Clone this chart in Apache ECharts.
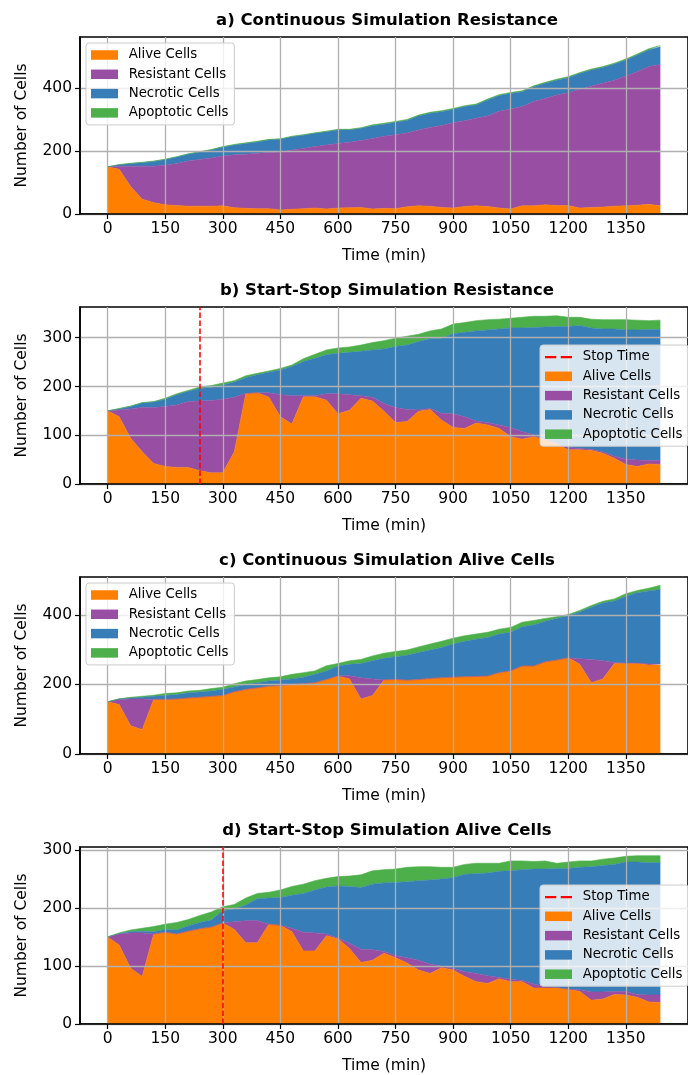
<!DOCTYPE html>
<html><head><meta charset="utf-8">
<script src="https://cdn.jsdelivr.net/npm/echarts@6/dist/echarts.min.js"></script>
<style>html,body{margin:0;padding:0;background:#fff}#c{width:688px;height:1075px}</style>
</head><body><div id="c"></div>
<script>
// ---- data ----
const TIME = [0,30,60,90,120,150,180,210,240,270,300,330,360,390,420,450,480,510,540,570,600,630,660,690,720,750,780,810,840,870,900,930,960,990,1020,1050,1080,1110,1140,1170,1200,1230,1260,1290,1320,1350,1380,1410,1440];
const X_TICKS = [0,150,300,450,600,750,900,1050,1200,1350];
const SERIES_NAMES = ['Alive Cells','Resistant Cells','Necrotic Cells','Apoptotic Cells'];

// a) Continuous Simulation Resistance
const A_ALIVE = [150,142,87,47,36,29,27,25,25,25,26,20,18,17,17,13,15,17,19,16,19,20,21,16,18,17,23,26,25,21,19,24,26,24,19,16,26,26,29,27,27,19,21,22,25,26,28,31,26];
const A_RESISTANT = [0,10,65,105,116,126,133,143,148,153,158,168,172,176,178,184,188,191,195,203,205,208,212,224,229,235,234,241,250,260,271,272,278,287,307,317,315,331,338,351,358,377,385,393,400,412,424,437,449];
const A_NECROTIC = [0,4,8,11,15,18,21,22,24,25,28,31,34,36,40,40,42,42,42,42,43,39,39,40,38,39,40,44,45,44,42,45,42,51,50,50,47,47,48,47,48,50,51,50,51,51,53,53,56];
const A_APOPTOTIC = [0,1,1,1,1,1,1,1,1,2,2,2,2,2,2,2,2,2,2,2,2,2,2,3,3,3,3,3,3,3,3,3,3,3,3,3,3,3,3,3,3,3,3,3,3,3,3,4,4];
const A_YTICKS = [0,200,400];

// b) Start-Stop Simulation Resistance
const B_ALIVE = [150,138,94,66,42,36,34,34,27,23,23,66,185,187,178,138,123,179,179,172,144,151,176,170,149,126,128,149,153,131,116,114,125,121,114,97,92,97,90,82,70,70,69,63,53,40,36,41,40];
const B_RESISTANT = [0,14,60,91,115,123,128,135,143,148,151,112,1,0,9,45,58,2,2,13,41,32,5,8,16,31,25,3,2,14,28,24,4,5,7,19,15,4,1,2,5,3,2,3,4,11,13,7,8];
const B_NECROTIC = [0,2,5,9,11,15,21,21,26,27,29,31,32,37,42,51,60,70,77,80,83,87,91,97,112,125,132,140,143,154,164,173,185,190,197,204,213,220,231,239,248,252,249,252,261,265,267,269,269];
const B_APOPTOTIC = [0,1,1,1,1,2,2,2,3,4,4,3,4,3,3,3,3,6,8,10,11,11,13,15,17,17,18,15,16,19,20,20,21,21,20,20,22,23,22,22,19,17,18,19,19,21,20,18,19];
const B_YTICKS = [0,100,200,300];
const B_STOP = 240;

// c) Continuous Simulation Alive Cells
const C_ALIVE = [150,142,81,70,157,157,158,161,163,166,168,179,186,190,195,197,200,202,205,214,224,216,158,168,213,214,212,214,217,219,221,222,223,224,234,239,253,253,265,270,277,258,205,216,260,260,260,256,256];
const C_RESISTANT = [0,15,77,88,0,0,0,0,0,0,0,0,0,0,0,0,0,0,0,0,1,9,61,48,0,0,0,0,0,0,0,0,0,0,0,0,0,0,0,0,0,16,67,52,3,2,2,3,3];
const C_NECROTIC = [0,1,3,5,9,11,13,15,15,15,18,14,14,15,15,16,16,19,24,25,28,33,41,52,62,66,72,78,82,87,95,102,107,111,111,111,113,118,117,120,121,134,150,166,177,192,202,210,214];
const C_APOPTOTIC = [0,1,2,3,3,6,5,5,5,7,6,9,10,9,9,9,13,13,10,15,7,10,12,14,15,15,15,16,17,18,17,16,15,15,14,14,13,13,8,5,3,5,5,5,6,7,6,8,12];
const C_YTICKS = [0,200,400];

// d) Start-Stop Simulation Alive Cells
const D_ALIVE = [150,136,96,82,155,158,155,160,164,167,174,163,140,140,172,170,159,126,126,152,147,130,106,110,122,114,105,93,87,97,93,82,73,70,78,73,73,62,62,62,60,56,41,43,51,50,46,38,37];
const D_RESISTANT = [0,19,61,75,0,0,0,0,0,0,0,13,38,38,0,0,6,32,31,3,1,9,23,18,3,4,9,17,16,3,3,8,14,13,2,4,2,7,2,1,0,3,14,12,5,6,5,12,13];
const D_NECROTIC = [0,1,2,3,4,5,7,9,11,12,21,22,27,38,45,48,57,67,74,81,90,98,106,113,118,126,131,137,145,150,156,168,172,177,183,187,191,198,203,205,208,211,216,218,219,223,228,228,228];
const D_APOPTOTIC = [0,1,3,5,9,9,13,11,12,14,7,8,12,9,10,13,15,16,16,15,16,18,22,23,23,23,25,24,23,20,18,17,18,17,14,17,15,13,14,9,11,11,10,11,11,10,11,12,12];
const D_YTICKS = [0,100,200,300];
const D_STOP = 300;

// ---- layout / style ----
const FONT = 'DejaVu Sans';
const COLORS = ['#ff7f00','#984ea3','#377eb8','#4daf4a'];
const panels = [
  {title:'a) Continuous Simulation Resistance', top:37, ymax:562, yticks:A_YTICKS, vals:[A_ALIVE,A_RESISTANT,A_NECROTIC,A_APOPTOTIC], stop:null, legend:{left:86, top:43}},
  {title:'b) Start-Stop Simulation Resistance', top:307, ymax:363, yticks:B_YTICKS, vals:[B_ALIVE,B_RESISTANT,B_NECROTIC,B_APOPTOTIC], stop:B_STOP, legend:{left:540, top:345}},
  {title:'c) Continuous Simulation Alive Cells', top:577, ymax:509, yticks:C_YTICKS, vals:[C_ALIVE,C_RESISTANT,C_NECROTIC,C_APOPTOTIC], stop:null, legend:{left:86, top:583}},
  {title:'d) Start-Stop Simulation Alive Cells', top:847, ymax:305, yticks:D_YTICKS, vals:[D_ALIVE,D_RESISTANT,D_NECROTIC,D_APOPTOTIC], stop:D_STOP, legend:{left:540, top:885}}
];
const H = 177;
const TICK_FS = 15.5, LABEL_FS = 15.5, LEG_FS = 13.3;

const grid = [], xAxis = [], yAxis = [], series = [], legend = [], graphic = [];
panels.forEach((p, i) => {
  grid.push({left:80, right:-5.8, top:p.top, height:H, show:true, borderColor:'#000', borderWidth:1.6, backgroundColor:'rgba(0,0,0,0)', containLabel:false});
  xAxis.push({
    type:'value', gridIndex:i, min:-72, max:1512, z:3,
    name:'Time (min)', nameLocation:'middle', nameGap:34,
    nameTextStyle:{fontFamily:FONT, fontSize:LABEL_FS, color:'#000'},
    axisLine:{show:true, onZero:false, lineStyle:{color:'#000', width:1.6}},
    axisTick:{show:true, inside:false, length:5, lineStyle:{color:'#000', width:1.2}, customValues:X_TICKS},
    axisLabel:{customValues:X_TICKS, margin:7, fontFamily:FONT, fontSize:TICK_FS, color:'#000', formatter:v=>String(v)},
    splitLine:{show:true, lineStyle:{color:'#b0b0b0', width:1.3}}
  });
  yAxis.push({
    type:'value', gridIndex:i, min:0, max:p.ymax, z:3,
    name:'Number of Cells', nameLocation:'middle', nameGap:50, nameRotate:90,
    nameTextStyle:{fontFamily:FONT, fontSize:LABEL_FS, color:'#000'},
    axisLine:{show:true, onZero:false, lineStyle:{color:'#000', width:1.6}},
    axisTick:{show:true, inside:false, length:5, lineStyle:{color:'#000', width:1.2}, customValues:p.yticks},
    axisLabel:{customValues:p.yticks, margin:8, fontFamily:FONT, fontSize:TICK_FS, color:'#000', formatter:v=>String(v)},
    splitLine:{show:true, lineStyle:{color:'#b0b0b0', width:1.3}}
  });
  p.vals.forEach((arr, k) => {
    series.push({
      type:'line', name:SERIES_NAMES[k], xAxisIndex:i, yAxisIndex:i, stack:'s'+i,
      symbol:'none', showSymbol:false, silent:true, z:2,
      color:COLORS[k], itemStyle:{color:COLORS[k]},
      lineStyle:{width:0.6, color:COLORS[k]}, areaStyle:{color:COLORS[k], opacity:1},
      // value first so the stacked dimension is the cell count (y), time on dim 1 (x)
      encode:{x:1, y:0},
      data: TIME.map((t, j) => [arr[j], t])
    });
  });
  const legData = SERIES_NAMES.map(n => ({name:n, icon:'rect'}));
  if (p.stop !== null) {
    series.push({
      type:'line', name:'Stop Time', xAxisIndex:i, yAxisIndex:i, data:[], symbol:'none', z:5,
      color:'#ff0000', itemStyle:{color:'#ff0000'},
      lineStyle:{color:'#ff0000', width:1.5, type:[5.5,2.4]},
      markLine:{silent:true, symbol:['none','none'], label:{show:false},
        lineStyle:{color:'#ff0000', width:1.5, type:[5.5,2.4]},
        data:[{xAxis:p.stop}]}
    });
    legData.unshift({name:'Stop Time', icon:'path://M0,0h10v2h-10z M14,0h10v2h-10z', itemStyle:{color:'#ff0000'}});
  }
  legend.push({
    orient:'vertical', left:p.legend.left, top:p.legend.top, z:6,
    data:legData, itemWidth:27, itemHeight:9.5, itemGap:5.3,
    padding:[5,6,5,5], backgroundColor:'rgba(255,255,255,0.8)',
    borderColor:'#cccccc', borderWidth:1, borderRadius:3,
    selectedMode:false,
    textStyle:{fontFamily:FONT, fontSize:LEG_FS, color:'#000', lineHeight:14, padding:[0,0,0,5.7]}
  });
  graphic.push({type:'text', x:387, y:p.top-16, z:10, style:{text:p.title, fontFamily:FONT, fontWeight:'bold', fontSize:16.5, fill:'#000', align:'center', verticalAlign:'middle'}});
});

const chart = echarts.init(document.getElementById('c'), null, {renderer:'canvas'});
chart.setOption({animation:false, backgroundColor:'#fff', grid, xAxis, yAxis, series, legend, graphic});
</script>
</body></html>
